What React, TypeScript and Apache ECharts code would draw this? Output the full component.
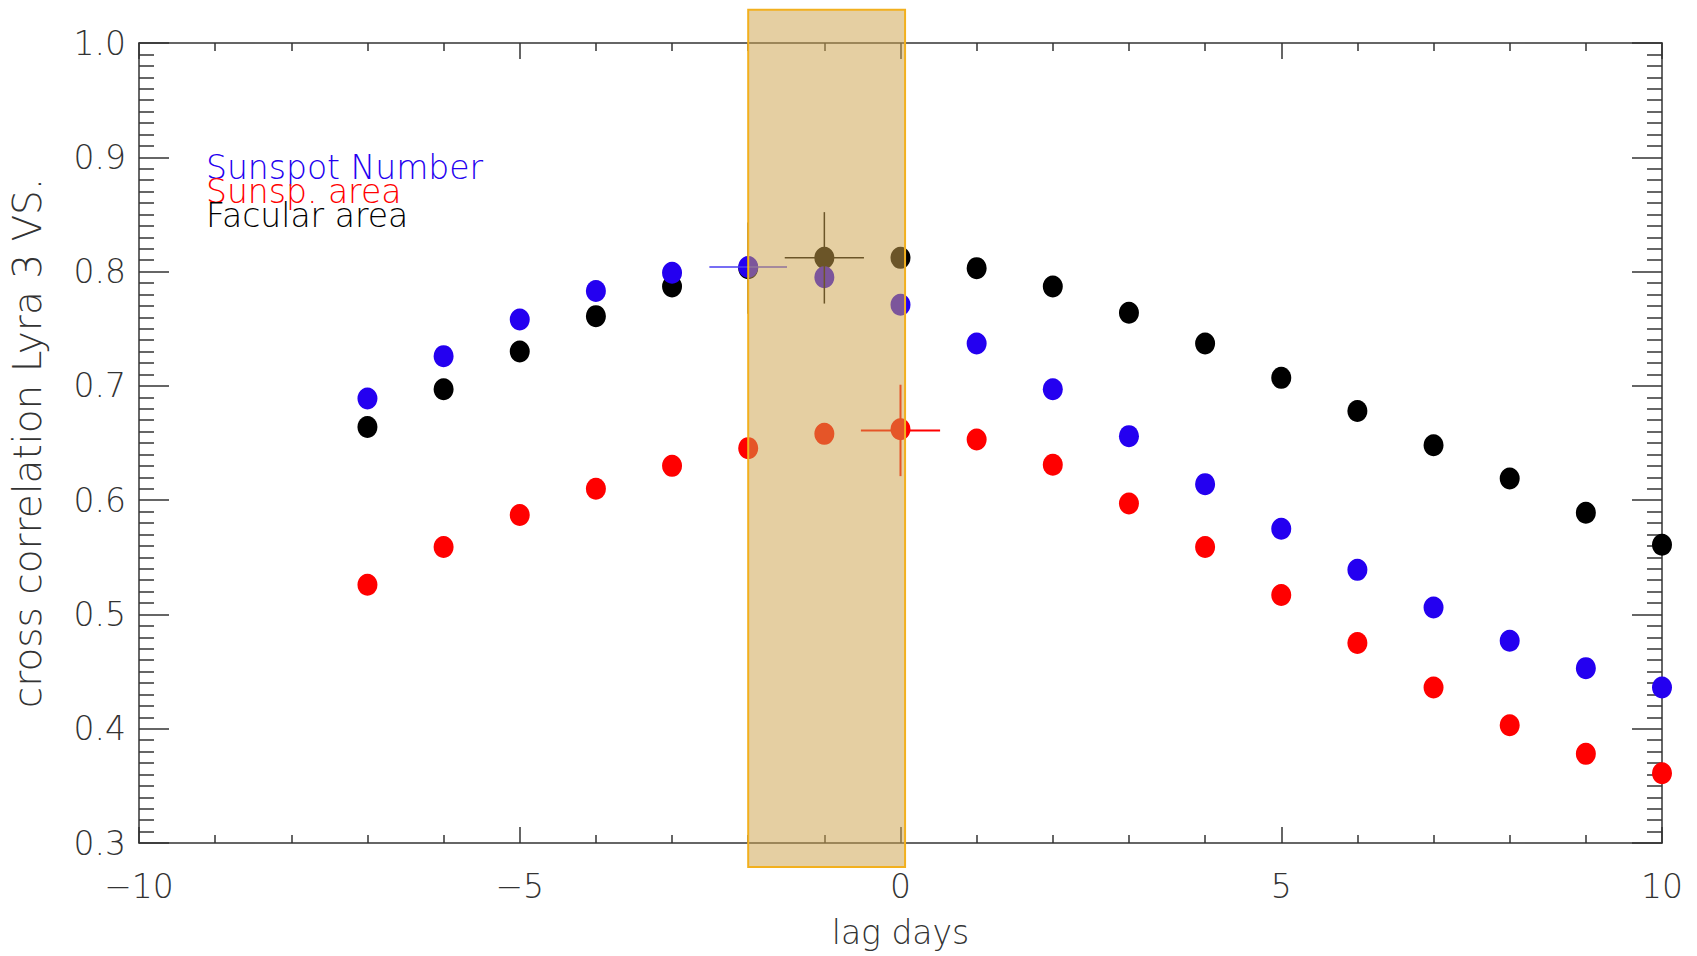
import React, { useEffect, useRef } from "react";
import * as echarts from "echarts";

const lags = [-7, -6, -5, -4, -3, -2, -1, 0, 1, 2, 3, 4, 5, 6, 7, 8, 9, 10];
const sunspotNumber = [0.689, 0.726, 0.758, 0.783, 0.799, 0.804, 0.795, 0.771, 0.737, 0.697, 0.656, 0.614, 0.575, 0.539, 0.506, 0.477, 0.453, 0.436];
const sunspotArea = [0.526, 0.559, 0.587, 0.610, 0.630, 0.6455, 0.658, 0.662, 0.653, 0.631, 0.597, 0.559, 0.517, 0.475, 0.436, 0.403, 0.378, 0.361];
const facularArea = [0.664, 0.697, 0.730, 0.761, 0.787, 0.803, 0.812, 0.812, 0.803, 0.787, 0.764, 0.737, 0.707, 0.678, 0.648, 0.619, 0.589, 0.561];

// error bars: [lag, value, xErr, yErr]
const blueErr = [[-2, 0.804, 0.51, 0]];
const blackErr = [[-2, 0.803, 0, 0.04], [-1, 0.812, 0.52, 0.04]];
const redErr = [[0, 0.661, 0.52, 0.04]];

// highlighted band: [xFrom, xTo, yFrom, yTo]
const band = [[-2.0, 0.06, 0.279, 1.029]];

const xTicks = { min: -10, max: 10, interval: 5 };
const yTicks = { min: 0.3, max: 1.0, interval: 0.1 };

const legendItems = ["Sunspot Number", "Sunsp. area", "Facular area"];

const BLUE = "#2400f0";
const RED = "#ff0000";
const BLACK = "#000000";
const FONT = "'DejaVu Sans', sans-serif";
const AX = "#333333";

function zip(xs: number[], ys: number[]) {
  return xs.map((x, i) => [x, ys[i]]);
}

function errSeries(data: number[][], color: string, width: number) {
  return {
    type: "custom",
    z: 4,
    data,
    encode: { x: 0, y: 1 },
    silent: true,
    renderItem: (params: any, api: any) => {
      const x = api.value(0);
      const y = api.value(1);
      const dx = api.value(2);
      const dy = api.value(3);
      const children: any[] = [];
      if (dx > 0) {
        const a = api.coord([x - dx, y]);
        const b = api.coord([x + dx, y]);
        children.push({ type: "line", shape: { x1: a[0], y1: a[1], x2: b[0], y2: b[1] }, style: { stroke: color, lineWidth: width } });
      }
      if (dy > 0) {
        const a = api.coord([x, y - dy]);
        const b = api.coord([x, y + dy]);
        children.push({ type: "line", shape: { x1: a[0], y1: a[1], x2: b[0], y2: b[1] }, style: { stroke: color, lineWidth: width } });
      }
      return { type: "group", children };
    },
  };
}

function axisCommon() {
  return {
    axisLine: { show: true, onZero: false, lineStyle: { color: AX, width: 1.5 } },
    splitLine: { show: false },
  };
}

export default function App() {
  const ref = useRef<HTMLDivElement>(null);
  useEffect(() => {
    if (!ref.current) return;
    const chart = echarts.init(ref.current, null, { renderer: "svg" });
    const labelStyle = { fontFamily: FONT, fontSize: 33, fontWeight: 200, color: AX };
    const xBase = {
      type: "value",
      ...xTicks,
      ...axisCommon(),
      axisTick: { show: true, inside: true, length: 16, lineStyle: { color: AX, width: 1.5 } },
      minorTick: { show: true, splitNumber: 5, length: 8, lineStyle: { color: AX, width: 1.5 } },
    };
    const yBase = {
      type: "value",
      ...yTicks,
      ...axisCommon(),
      axisTick: { show: true, inside: true, length: 30, lineStyle: { color: AX, width: 1.5 } },
      minorTick: { show: true, splitNumber: 10, length: 15, lineStyle: { color: AX, width: 1.5 } },
    };
    chart.setOption({
      animation: false,
      backgroundColor: "#ffffff",
      grid: { left: 129, right: 35, top: 43, bottom: 113, containLabel: false },
      xAxis: [
        {
          ...xBase,
          position: "bottom",
          axisLabel: { ...labelStyle, margin: 27, formatter: (v: number) => String(v).replace("-", "\u2212") },
          name: "lag days",
          nameLocation: "middle",
          nameGap: 73,
          nameTextStyle: { ...labelStyle },
        },
        { ...xBase, position: "top", axisLabel: { show: false } },
      ],
      yAxis: [
        {
          ...yBase,
          position: "left",
          axisLabel: { ...labelStyle, margin: 13, formatter: (v: number) => v.toFixed(1) },
          name: "cross correlation Lyra 3 VS.",
          nameLocation: "middle",
          nameGap: 92,
          nameTextStyle: { ...labelStyle, fontSize: 39 },
        },
        { ...yBase, position: "right", axisLabel: { show: false } },
      ],
      graphic: legendItems.map((t, i) => ({
        type: "text",
        left: 206,
        top: 151 + i * 24,
        z: 10,
        style: { text: t, fill: [BLUE, RED, BLACK][i], font: `200 33px ${FONT}` },
      })),
      series: [
        { type: "scatter", name: "Facular area", data: zip(lags, facularArea), symbol: "circle", symbolSize: [20, 22], itemStyle: { color: BLACK, opacity: 1 }, z: 2 },
        { type: "scatter", name: "Sunsp. area", data: zip(lags, sunspotArea), symbol: "circle", symbolSize: [20, 22], itemStyle: { color: RED, opacity: 1 }, z: 2 },
        { type: "scatter", name: "Sunspot Number", data: zip(lags, sunspotNumber), symbol: "circle", symbolSize: [20, 22], itemStyle: { color: BLUE, opacity: 1 }, z: 2 },
        errSeries(blackErr, BLACK, 1.5),
        errSeries(redErr, RED, 2),
        errSeries(blueErr, "#4a3cf0", 1.5),
        {
          type: "custom",
          z: 6,
          data: band,
          encode: { x: [0, 1], y: [2, 3] },
          silent: true,
          renderItem: (params: any, api: any) => {
            const p1 = api.coord([api.value(0), api.value(3)]);
            const p2 = api.coord([api.value(1), api.value(2)]);
            return {
              type: "rect",
              shape: { x: p1[0], y: p1[1], width: p2[0] - p1[0], height: p2[1] - p1[1] },
              style: {
                fill: "rgba(206,163,77,0.52)",
                stroke: "#f2b01e",
                lineWidth: 2,
              },
            };
          },
        },
      ],
    });
    return () => chart.dispose();
  }, []);
  return <div ref={ref} style={{ position: "fixed", left: 0, top: 0, width: 1697, height: 956 }} />;
}
